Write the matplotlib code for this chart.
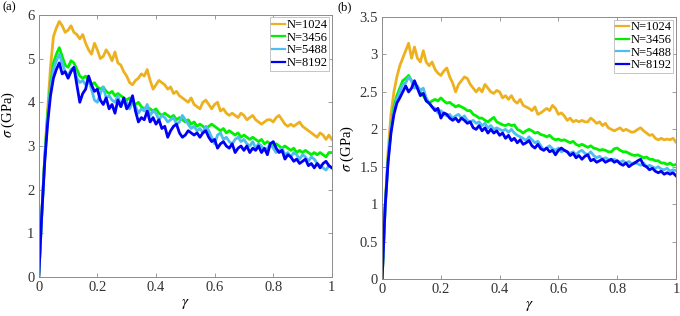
import numpy as np
import matplotlib
matplotlib.use("Agg")
import matplotlib.pyplot as plt
from matplotlib.ticker import FuncFormatter

plt.rcParams['font.family'] = ['Liberation Serif', 'DejaVu Serif']
plt.rcParams['mathtext.fontset'] = 'stix'

# strain samples (shared by both panels)
gamma = np.round(np.arange(0, 1.001, 0.01), 2)

labels = ['N=1024', 'N=3456', 'N=5488', 'N=8192']
colors = ['#EDB120', '#00F000', '#4DBEEE', '#0000F5']

# panel (a) stress values, GPa
a_1024 = [0, 1.4, 2.7, 3.8, 4.8, 5.5, 5.7, 5.85, 5.75, 5.6,
          5.65, 5.75, 5.6, 5.55, 5.45, 5.55, 5.35, 5.2, 5.1, 5.35,
          5.2, 5.0, 5.05, 5.2, 5.1, 4.95, 5.15, 4.9, 4.85, 4.7,
          4.6, 4.45, 4.4, 4.5, 4.55, 4.65, 4.6, 4.75, 4.5, 4.3,
          4.4, 4.5, 4.45, 4.4, 4.3, 4.35, 4.2, 4.25, 4.15, 4.1,
          4.05, 4.0, 4.1, 3.95, 3.9, 3.85, 4.0, 4.05, 3.95, 3.85,
          3.95, 4.0, 3.8, 3.85, 3.75, 3.7, 3.75, 3.7, 3.65, 3.75,
          3.7, 3.6, 3.65, 3.7, 3.6, 3.55, 3.5, 3.55, 3.6, 3.6,
          3.55, 3.65, 3.7, 3.6, 3.5, 3.45, 3.5, 3.45, 3.5, 3.55,
          3.45, 3.4, 3.35, 3.3, 3.25, 3.2, 3.3, 3.25, 3.15, 3.25, 3.15]
a_3456 = [0, 1.4, 2.7, 3.7, 4.4, 4.9, 5.1, 5.25, 5.05, 4.85,
          4.8, 4.95, 4.9, 4.75, 4.6, 4.55, 4.6, 4.5, 4.4, 4.45,
          4.35, 4.3, 4.35, 4.25, 4.2, 4.25, 4.15, 4.2, 4.15, 4.1,
          4.05, 4.1, 4.0, 3.95, 4.0, 3.9, 3.85, 3.9, 3.85, 3.8,
          3.85, 3.75, 3.7, 3.75, 3.7, 3.65, 3.7, 3.6, 3.65, 3.6,
          3.55, 3.6, 3.5, 3.55, 3.45, 3.5, 3.45, 3.4, 3.45, 3.5,
          3.45, 3.4, 3.35, 3.4, 3.3, 3.35, 3.3, 3.25, 3.3, 3.2,
          3.25, 3.2, 3.15, 3.2, 3.15, 3.1, 3.15, 3.05, 3.1, 3.05,
          3.0, 3.05, 3.0, 2.95, 3.0, 2.95, 2.9, 2.95, 2.85, 2.9,
          2.85, 2.9, 2.85, 2.8, 2.85, 2.8, 2.85, 2.8, 2.75, 2.85, 2.85]
a_5488 = [0, 1.4, 2.65, 3.6, 4.3, 4.75, 4.95, 5.1, 4.9, 4.7,
          4.6, 4.75, 4.8, 4.55, 4.45, 4.5, 4.4, 4.5, 4.3, 4.05,
          4.0, 4.2, 4.35, 4.1, 4.15, 4.05, 4.0, 4.15, 3.9, 4.05,
          4.0, 3.85, 4.0, 3.9, 3.75, 3.85, 3.8, 3.95, 3.7, 3.8,
          3.75, 3.6, 3.7, 3.65, 3.55, 3.6, 3.65, 3.5, 3.55, 3.7,
          3.6, 3.5, 3.4, 3.45, 3.35, 3.4, 3.3, 3.45, 3.35, 3.2,
          3.05, 3.25, 3.3, 3.15, 3.2, 3.1, 3.05, 3.15, 3.2, 3.1,
          3.15, 3.05, 3.0, 3.1, 2.95, 3.05, 3.0, 2.9, 2.95, 3.05,
          2.95, 2.85, 2.9, 2.95, 2.8, 2.85, 2.75, 2.85, 2.8, 2.7,
          2.8, 2.75, 2.65, 2.75, 2.7, 2.6, 2.55, 2.5, 2.45, 2.55, 2.5]
a_8192 = [0, 1.4, 2.6, 3.5, 4.15, 4.55, 4.75, 4.9, 4.65, 4.7,
          4.55, 4.7, 4.8, 4.4, 4.0, 4.2, 4.3, 4.6, 4.4, 4.25,
          4.3, 4.05, 3.95, 4.1, 3.85, 3.95, 3.75, 4.05, 3.9, 4.1,
          3.85, 3.95, 4.15, 3.8, 3.55, 3.65, 3.6, 3.8, 3.55, 3.65,
          3.5, 3.6, 3.4, 3.45, 3.2, 3.35, 3.45, 3.5, 3.3, 3.2,
          3.25, 3.35, 3.3, 3.25, 3.3, 3.2, 3.3, 3.35, 3.2, 3.1,
          3.15, 2.95, 3.05, 3.1, 3.0, 2.95, 3.05, 2.85, 2.95, 3.0,
          2.9, 3.0, 2.85, 2.95, 2.9, 3.0, 2.85, 2.95, 2.8, 3.05,
          3.1, 2.95, 2.85, 2.9, 2.7, 2.8, 2.75, 2.65, 2.7, 2.6,
          2.65, 2.7, 2.55, 2.6, 2.5, 2.6, 2.5, 2.6, 2.65, 2.55, 2.5]

# panel (b) stress values, GPa
b_1024 = [0, 0.95, 1.7, 2.2, 2.5, 2.7, 2.85, 2.95, 3.05, 3.15,
          2.95, 3.1, 2.95, 2.9, 3.05, 2.9, 2.85, 2.9, 2.8, 2.75,
          2.72, 2.78, 2.82, 2.7, 2.62, 2.5, 2.6, 2.65, 2.7, 2.68,
          2.6, 2.55, 2.5, 2.55, 2.5, 2.6, 2.55, 2.5, 2.48, 2.52,
          2.5, 2.42, 2.45, 2.4, 2.45, 2.38, 2.35, 2.4, 2.32, 2.3,
          2.28, 2.25, 2.3, 2.2, 2.22, 2.25, 2.28, 2.25, 2.32, 2.28,
          2.2, 2.22, 2.18, 2.12, 2.15, 2.1, 2.12, 2.1, 2.12, 2.1,
          2.1, 2.15, 2.12, 2.08, 2.1, 2.05, 2.08, 2.02, 2.0, 1.98,
          2.0, 2.02, 1.98, 2.0, 1.98, 1.96, 1.97, 2.0, 2.02, 1.98,
          1.95, 1.92, 1.93, 1.88, 1.86, 1.88, 1.86, 1.87, 1.86, 1.88, 1.83]
b_3456 = [0, 0.95, 1.6, 2.0, 2.3, 2.45, 2.55, 2.65, 2.68, 2.72,
          2.65, 2.58, 2.55, 2.5, 2.45, 2.38, 2.35, 2.38, 2.4, 2.38,
          2.42, 2.38, 2.35, 2.36, 2.33, 2.3, 2.32, 2.3, 2.28, 2.25,
          2.25, 2.2, 2.18, 2.15, 2.15, 2.12, 2.1, 2.13, 2.16, 2.1,
          2.08, 2.06, 2.05, 2.07, 2.05, 2.06, 2.0, 1.98, 1.95, 1.98,
          2.0, 1.98, 1.95, 1.96, 1.93, 1.92, 1.9, 1.92, 1.88, 1.86,
          1.87, 1.85, 1.86, 1.84, 1.82, 1.84, 1.8, 1.78, 1.8, 1.78,
          1.76, 1.78, 1.75, 1.74, 1.72, 1.73, 1.72, 1.7, 1.7, 1.74,
          1.75, 1.72, 1.7, 1.7, 1.68, 1.66, 1.65, 1.66, 1.64, 1.62,
          1.63, 1.6, 1.6, 1.58, 1.58, 1.55, 1.55, 1.53, 1.55, 1.52, 1.53]
b_5488 = [0, 0.95, 1.6, 2.0, 2.25, 2.4, 2.5, 2.6, 2.62, 2.7,
          2.65, 2.55, 2.58, 2.52, 2.55, 2.42, 2.35, 2.3, 2.28, 2.22,
          2.25, 2.2, 2.18, 2.2, 2.15, 2.18, 2.2, 2.15, 2.18, 2.12,
          2.1, 2.12, 2.08, 2.1, 2.05, 2.08, 2.02, 2.05, 2.0, 2.02,
          2.0, 1.98, 2.0, 1.96, 2.0, 1.95, 1.92, 1.9, 1.88, 1.85,
          1.9, 1.86, 1.82, 1.84, 1.78, 1.72, 1.75, 1.78, 1.74, 1.72,
          1.75, 1.7, 1.72, 1.7, 1.68, 1.7, 1.66, 1.7, 1.72, 1.68,
          1.66, 1.7, 1.65, 1.62, 1.64, 1.6, 1.62, 1.6, 1.58, 1.6,
          1.58, 1.56, 1.58, 1.55, 1.57, 1.54, 1.56, 1.54, 1.52, 1.55,
          1.5, 1.52, 1.5, 1.48, 1.5, 1.47, 1.46, 1.48, 1.44, 1.46, 1.45]
b_8192 = [0, 0.95, 1.55, 1.95, 2.2, 2.35, 2.42, 2.5, 2.58, 2.5,
          2.55, 2.65, 2.55, 2.45, 2.48, 2.38, 2.35, 2.3, 2.25, 2.28,
          2.15, 2.22, 2.2, 2.15, 2.12, 2.15, 2.1, 2.15, 2.12, 2.08,
          2.1, 2.02, 2.0, 2.05, 1.98, 2.02, 1.95, 2.0, 1.95, 1.98,
          1.92, 1.95, 1.88, 1.92, 1.85, 1.88, 1.82, 1.86, 1.8, 1.82,
          1.85, 1.78, 1.75, 1.8, 1.74, 1.72, 1.75, 1.7, 1.72, 1.66,
          1.72, 1.75, 1.72, 1.7, 1.65, 1.68, 1.62, 1.65, 1.6, 1.64,
          1.66, 1.58, 1.6, 1.56, 1.58, 1.6, 1.56, 1.58, 1.6, 1.56,
          1.58, 1.54, 1.52, 1.55, 1.5, 1.53, 1.55, 1.58, 1.6, 1.52,
          1.5, 1.46, 1.48, 1.44, 1.42, 1.44, 1.4, 1.42, 1.4, 1.42, 1.38]

panel_a = [a_1024, a_3456, a_5488, a_8192]
panel_b = [b_1024, b_3456, b_5488, b_8192]

fig = plt.figure(figsize=(6.8, 3.16), dpi=100)
ax1 = fig.add_axes([0.057, 0.123, 0.431, 0.830])
ax2 = fig.add_axes([0.562, 0.117, 0.432, 0.829])

edge = '#8c8c8c'
fmt = FuncFormatter(lambda v, p: '%g' % v)

for ax, curves, ymax, ystep, ylab_y in [(ax1, panel_a, 6, 1, 0.62),
                                        (ax2, panel_b, 3.5, 0.5, 0.5)]:
    for vals, c, lab in zip(curves, colors, labels):
        ax.plot(gamma, vals, color=c, lw=2.0, label=lab)
    ax.set_xlim(0, 1)
    ax.set_ylim(0, ymax)
    ax.set_xticks(np.arange(0, 1.01, 0.2))
    ax.set_yticks(np.arange(0, ymax + 0.01, ystep))
    ax.xaxis.set_major_formatter(fmt)
    ax.yaxis.set_major_formatter(fmt)
    ax.tick_params(direction='in', top=True, right=True, length=3, width=0.6,
                   labelcolor='#333333', labelsize=10.5, pad=3)
    ax.tick_params(color=edge)
    for s in ax.spines.values():
        s.set_color(edge)
        s.set_linewidth(0.7)
    ax.set_xlabel(r'$\gamma$', fontsize=11, labelpad=2)
    ax.set_ylabel(r'$\sigma$ (GPa)', fontsize=10.5, labelpad=3)
    ax.yaxis.set_label_coords(-0.075 if ax is ax1 else -0.09, ylab_y)
    leg = ax.legend(loc='upper right', fontsize=9, handlelength=1.0,
                    handletextpad=0.15, borderpad=0.15, labelspacing=0.05,
                    borderaxespad=0.2, fancybox=False, framealpha=1)
    leg.get_frame().set_edgecolor('#bbbbbb')
    leg.get_frame().set_linewidth(0.6)
    for h in leg.get_lines():
        h.set_linewidth(1.6)

fig.text(0.003, 0.995, '(a)', fontsize=9, va='top', ha='left')
fig.text(0.497, 0.995, '(b)', fontsize=9, va='top', ha='left')

fig.savefig('out.png', dpi=100)
